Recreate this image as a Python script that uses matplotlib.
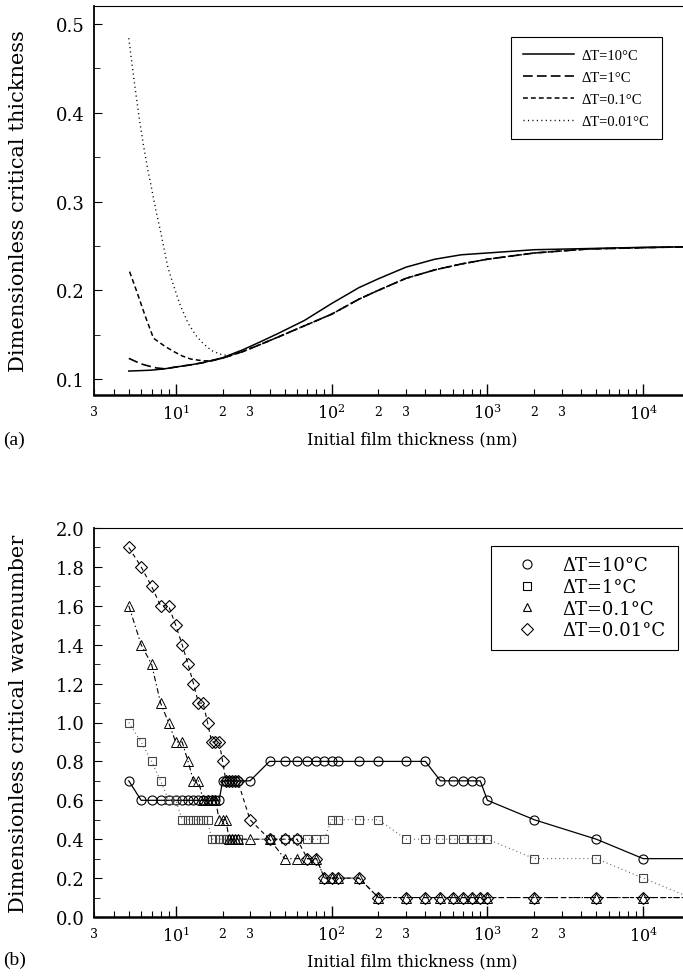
import matplotlib
matplotlib.use("Agg")
import matplotlib.pyplot as plt
import numpy as np
from matplotlib.lines import Line2D
from matplotlib.ticker import LogLocator, FuncFormatter, MultipleLocator, FormatStrFormatter

plt.rcParams['font.family'] = 'DejaVu Serif'
plt.rcParams['mathtext.fontset'] = 'dejavuserif'
plt.rcParams['lines.scale_dashes'] = False

labels = ["ΔT=10°C", "ΔT=1°C", "ΔT=0.1°C", "ΔT=0.01°C"]

# ---- (a) dimensionless critical thickness vs initial film thickness
h_10 = [5, 6, 7, 8.5, 10, 12.5, 15, 20, 27, 35, 45, 67, 100, 150, 200, 300, 460, 680, 1000, 2000, 4400, 10000, 20000]
hc_10 = [0.109, 0.1095, 0.110, 0.1115, 0.1135, 0.116, 0.1185, 0.124, 0.133, 0.142, 0.151, 0.166, 0.185, 0.203, 0.213,
         0.226, 0.235, 0.240, 0.242, 0.2457, 0.247, 0.2484, 0.249]

h_1 = [5, 5.5, 6, 6.6, 7.5, 8.5, 10, 12.5, 15, 20, 27, 35, 45, 67, 100, 150, 200, 300, 460, 680, 1000, 2000, 4400,
       10000, 20000]
hc_1 = [0.1233, 0.120, 0.117, 0.115, 0.1125, 0.1115, 0.1135, 0.116, 0.1185, 0.1235, 0.131, 0.139, 0.147, 0.160, 0.173,
        0.190, 0.200, 0.2134, 0.223, 0.2296, 0.235, 0.242, 0.2465, 0.248, 0.249]

h_01 = [5.06, 5.64, 6.37, 7.2, 8.5, 9.7, 11, 12.5, 15, 17, 20, 27, 35, 45, 67, 100, 150, 200, 300, 460, 680, 1000,
        2000, 4400, 10000, 20000]
hc_01 = [0.221, 0.198, 0.171, 0.146, 0.137, 0.131, 0.126, 0.1225, 0.1205, 0.1205, 0.1235, 0.131, 0.139, 0.147, 0.160,
         0.173, 0.190, 0.200, 0.2134, 0.223, 0.2296, 0.235, 0.242, 0.2465, 0.248, 0.249]

h_001 = [5.0, 5.4, 5.8, 6.2, 6.6, 7.0, 7.5, 8.0, 8.9, 9.7, 10.7, 12, 13.5, 15, 17, 20, 23, 27, 35, 45, 67, 100, 150,
         200, 300, 460, 680, 1000, 2000, 4400, 10000, 20000]
hc_001 = [0.484, 0.437, 0.397, 0.364, 0.337, 0.315, 0.288, 0.266, 0.226, 0.205, 0.183, 0.163, 0.149, 0.140, 0.132,
          0.127, 0.127, 0.131, 0.139, 0.147, 0.160, 0.173, 0.190, 0.200, 0.2134, 0.223, 0.2296, 0.235, 0.242, 0.2465,
          0.248, 0.249]

# ---- (b) dimensionless critical wavenumber vs initial film thickness
k_x10 = [5, 6, 7, 8, 9, 10, 11, 12, 13, 14, 15, 16, 17, 18, 19, 20, 21, 22, 23, 24, 25, 30, 40, 50, 60, 70, 80, 90,
         100, 110, 150, 200, 300, 400, 500, 600, 700, 800, 900, 1000, 2000, 5000, 10000, 20000]
k_10 = [0.7, 0.6, 0.6, 0.6, 0.6, 0.6, 0.6, 0.6, 0.6, 0.6, 0.6, 0.6, 0.6, 0.6, 0.6, 0.7, 0.7, 0.7, 0.7, 0.7, 0.7, 0.7,
        0.8, 0.8, 0.8, 0.8, 0.8, 0.8, 0.8, 0.8, 0.8, 0.8, 0.8, 0.8, 0.7, 0.7, 0.7, 0.7, 0.7, 0.6, 0.5, 0.4, 0.3, 0.3]

k_x1 = [5, 6, 7, 8, 9, 10, 11, 12, 13, 14, 15, 16, 17, 18, 19, 20, 21, 22, 23, 24, 25, 40, 50, 60, 70, 80, 90, 100,
        110, 150, 200, 300, 400, 500, 600, 700, 800, 900, 1000, 2000, 5000, 10000, 20000]
k_1 = [1.0, 0.9, 0.8, 0.7, 0.6, 0.6, 0.5, 0.5, 0.5, 0.5, 0.5, 0.5, 0.4, 0.4, 0.4, 0.4, 0.4, 0.4, 0.4, 0.4, 0.4, 0.4,
       0.4, 0.4, 0.4, 0.4, 0.4, 0.5, 0.5, 0.5, 0.5, 0.4, 0.4, 0.4, 0.4, 0.4, 0.4, 0.4, 0.4, 0.3, 0.3, 0.2, 0.1]

k_x01 = [5, 6, 7, 8, 9, 10, 11, 12, 13, 14, 15, 16, 17, 18, 19, 20, 21, 22, 23, 24, 25, 30, 40, 50, 60, 70, 80, 90,
         100, 110, 150, 200, 300, 400, 500, 600, 700, 800, 900, 1000, 2000, 5000, 10000, 20000]
k_01 = [1.6, 1.4, 1.3, 1.1, 1.0, 0.9, 0.9, 0.8, 0.7, 0.7, 0.6, 0.6, 0.6, 0.6, 0.5, 0.5, 0.5, 0.4, 0.4, 0.4, 0.4, 0.4,
        0.4, 0.3, 0.3, 0.3, 0.3, 0.2, 0.2, 0.2, 0.2, 0.1, 0.1, 0.1, 0.1, 0.1, 0.1, 0.1, 0.1, 0.1, 0.1, 0.1, 0.1, 0.1]

k_x001 = [5, 6, 7, 8, 9, 10, 11, 12, 13, 14, 15, 16, 17, 18, 19, 20, 21, 22, 23, 24, 25, 30, 40, 50, 60, 70, 80, 90,
          100, 110, 150, 200, 300, 400, 500, 600, 700, 800, 900, 1000, 2000, 5000, 10000, 20000]
k_001 = [1.9, 1.8, 1.7, 1.6, 1.6, 1.5, 1.4, 1.3, 1.2, 1.1, 1.1, 1.0, 0.9, 0.9, 0.9, 0.8, 0.7, 0.7, 0.7, 0.7, 0.7, 0.5,
         0.4, 0.4, 0.4, 0.3, 0.3, 0.2, 0.2, 0.2, 0.2, 0.1, 0.1, 0.1, 0.1, 0.1, 0.1, 0.1, 0.1, 0.1, 0.1, 0.1, 0.1, 0.1]

W, H = 683, 979
fig = plt.figure(figsize=(W / 100, H / 100), dpi=100)
ax1 = fig.add_axes([94 / W, 1 - 396 / H, 1 - 94 / W, 389 / H])
ax2 = fig.add_axes([94 / W, 1 - 918 / H, 1 - 94 / W, 389 / H])


def major_fmt(v, pos):
    return r'$10^{%d}$' % round(np.log10(v))


def minor_fmt(v, pos):
    m = round(v / 10 ** np.floor(np.log10(v) + 1e-9))
    return str(m) if m in (2, 3) else ''


for ax in (ax1, ax2):
    ax.set_xscale('log')
    ax.set_xlim(2.99, 18000)
    ax.xaxis.set_major_locator(LogLocator(base=10, numticks=10))
    ax.xaxis.set_minor_locator(LogLocator(base=10, subs=np.arange(2, 10), numticks=20))
    ax.xaxis.set_major_formatter(FuncFormatter(major_fmt))
    ax.xaxis.set_minor_formatter(FuncFormatter(minor_fmt))
    ax.tick_params(axis='x', which='major', direction='in', length=8, width=1, labelsize=11.5, pad=6)
    ax.tick_params(axis='x', which='minor', direction='in', length=4, width=0.8, labelsize=9, pad=7)
    ax.tick_params(axis='y', which='major', direction='in', length=6, width=0.8, labelsize=13, pad=7)
    ax.tick_params(axis='y', which='minor', direction='in', length=4, width=0.6)
    ax.spines['right'].set_visible(False)
    ax.spines['top'].set_linewidth(0.8)
    ax.spines['left'].set_linewidth(1.3)
    ax.spines['bottom'].set_linewidth(1.8)
    ax.set_xlabel('Initial film thickness (nm)', fontsize=11.5)
    ax.xaxis.set_label_coords(0.54, -0.09)

# panel (a)
ax1.plot(h_10, hc_10, color='black', lw=1.1, ls='-', label=labels[0])
ax1.plot(h_1, hc_1, color='black', lw=1.2, dashes=(7, 3), label=labels[1])
ax1.plot(h_01, hc_01, color='black', lw=1.1, dashes=(3.5, 2.2), label=labels[2])
ax1.plot(h_001, hc_001, color='black', lw=1.0, dashes=(0.8, 2.4), label=labels[3])
ax1.set_ylim(0.082, 0.5203)
ax1.yaxis.set_major_locator(MultipleLocator(0.1))
ax1.yaxis.set_minor_locator(MultipleLocator(0.05))
ax1.yaxis.set_major_formatter(FormatStrFormatter('%.1f'))
ax1.set_ylabel('Dimensionless critical thickness', fontsize=15)
ax1.yaxis.set_label_coords(-0.112, 0.5)
leg1 = ax1.legend(loc='upper left', bbox_to_anchor=(511 / W, 0.5, 151 / W, 1 - 38 / H - 0.5),
                  bbox_transform=fig.transFigure, mode='expand', borderaxespad=0,
                  prop={'family': 'Liberation Serif', 'size': 10.5}, handlelength=3.5, handletextpad=0.5,
                  labelspacing=0.6, borderpad=0.8, fancybox=False, framealpha=1)
leg1.get_frame().set_edgecolor('black')
leg1.get_frame().set_linewidth(0.8)

# panel (b)
ms = 6.5
ax2.plot(k_x10, k_10, color='black', lw=0.9, ls='-', marker='o', ms=ms, mfc='none', mec='black', mew=0.8)
ax2.plot(k_x1, k_1, color='#555555', lw=0.8, dashes=(0.7, 2.2), marker='s', ms=ms - 0.5, mfc='none',
         mec='#444444', mew=0.8)
ax2.plot(k_x01, k_01, color='black', lw=0.8, dashes=(4, 2, 1, 2), marker='^', ms=ms, mfc='none', mec='black',
         mew=0.7)
ax2.plot(k_x001, k_001, color='black', lw=0.8, dashes=(3, 2.5), marker='D', ms=ms - 0.5, mfc='none', mec='black',
         mew=0.8)
ax2.set_ylim(0, 2.0)
ax2.yaxis.set_major_locator(MultipleLocator(0.2))
ax2.yaxis.set_minor_locator(MultipleLocator(0.1))
ax2.yaxis.set_major_formatter(FormatStrFormatter('%.1f'))
ax2.set_ylabel('Dimensionless critical wavenumber', fontsize=15)
ax2.yaxis.set_label_coords(-0.112, 0.5)

handles = [
    Line2D([], [], ls='none', marker='o', ms=ms, mfc='none', mec='black', mew=0.8),
    Line2D([], [], ls='none', marker='s', ms=ms - 0.5, mfc='none', mec='black', mew=0.8),
    Line2D([], [], ls='none', marker='^', ms=ms - 1, mfc='none', mec='black', mew=0.8),
    Line2D([], [], ls='none', marker='D', ms=ms, mfc='none', mec='black', mew=0.8),
]
leg2 = ax2.legend(handles, labels, loc='upper left', bbox_to_anchor=(491 / W, 0.1, 187 / W, 1 - 547 / H - 0.1),
                  bbox_transform=fig.transFigure, mode='expand', borderaxespad=0,
                  prop={'family': 'DejaVu Serif', 'size': 13}, handlelength=2.8, handletextpad=0.55,
                  labelspacing=0.2, borderpad=0.58, fancybox=False, framealpha=1)
leg2.get_frame().set_edgecolor('black')
leg2.get_frame().set_linewidth(0.8)

fig.text(3 / W, 1 - 440 / H, '(a)', fontsize=14, va='center', ha='left', family='Liberation Serif')
fig.text(3 / W, 1 - 960 / H, '(b)', fontsize=14, va='center', ha='left', family='Liberation Serif')

fig.savefig('out.png', dpi=100)
